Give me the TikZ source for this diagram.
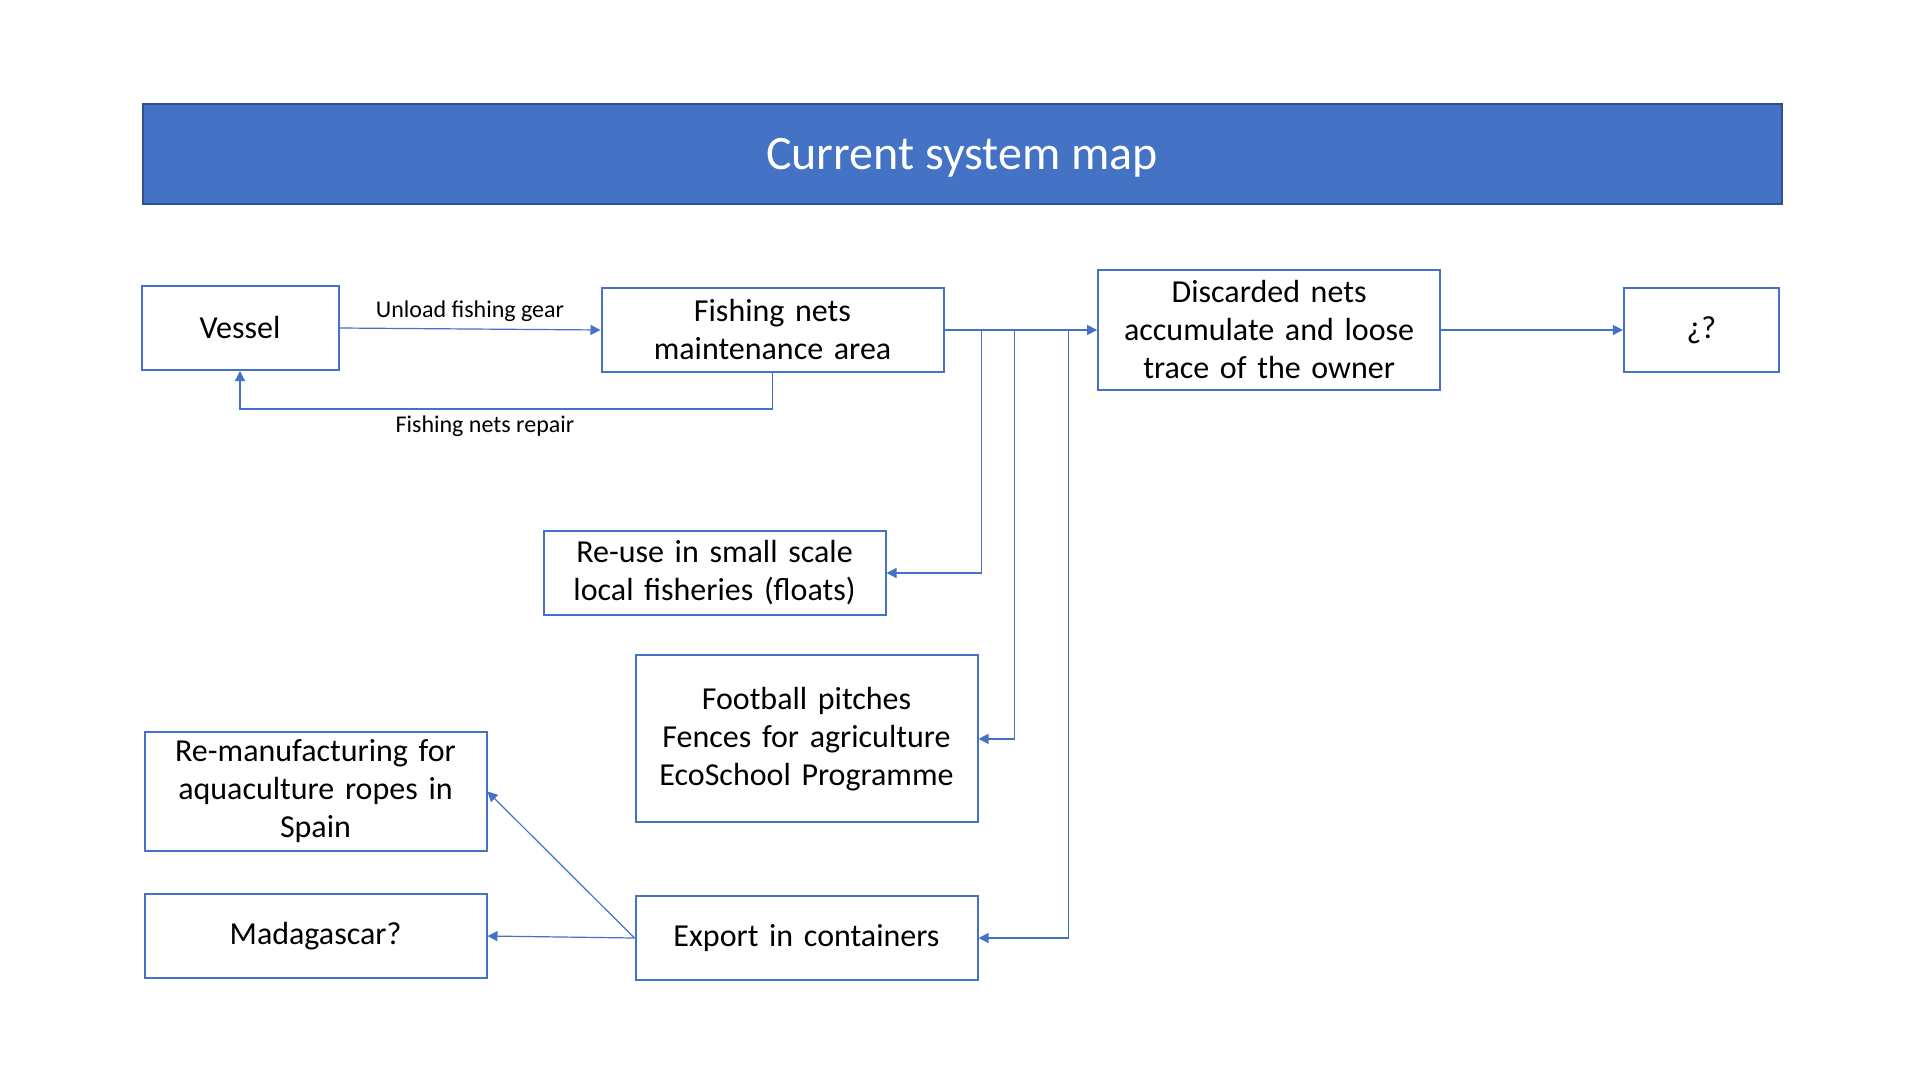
\documentclass[tikz,border=0pt]{standalone}
\usepackage{fontspec}
\setmainfont{Carlito}
\usetikzlibrary{arrows.meta, positioning, calc}
\definecolor{boxblue}{HTML}{4472C4}
\definecolor{bannerline}{HTML}{2F528F}
\tikzstyle{banner}    = [rectangle, minimum width=819.5pt, minimum height=50pt, draw=bannerline,
                          line width=1pt, fill=boxblue, text=white, text depth=0pt,
                          font=\fontsize{24}{29}\selectfont]
\tikzstyle{stage}     = [rectangle, minimum width=171pt, minimum height=42pt, inner sep=0pt,
                          text centered, draw=boxblue, line width=1pt, text width=165pt,
                          font=\fontsize{16}{19}\selectfont]
\tikzstyle{flow}      = [draw=boxblue, line width=0.6pt, -{Triangle[width=5pt,length=5pt]}]
\tikzstyle{flowlabel} = [font=\fontsize{12}{14}\selectfont, text=black]

\begin{document}
\begin{tikzpicture}[x=0.5pt, y=-0.5pt]

  \useasboundingbox (0,0) rectangle (1920,1080);

  % Title banner
  \node (title) [banner] at (962,154) {Current system map};

  % Top row
  \node (vessel)  [stage, minimum width=98.5pt, text width=90pt] at (240,328) {Vessel};
  \node (maint)   [stage, right=130.5pt of vessel, yshift=-1pt] {Fishing nets\\ maintenance area};
  \node (discard) [stage, minimum height=59.5pt, right=76.3pt of maint]
                  {Discarded nets\\ accumulate and loose\\ trace of the owner};
  \node (unknown) [stage, minimum width=77.5pt, text width=70pt, right=90.9pt of discard] {¿?};

  % Destinations
  \node (reuse)   [stage, below=78.5pt of maint, xshift=-29pt]
                  {Re-use in small scale\\ local fisheries (floats)};
  \node (sport)   [stage, minimum height=83.5pt, below=19.2pt of reuse, xshift=46pt]
                  {Football pitches\\ Fences for agriculture\\ EcoSchool Programme};
  \node (export)  [stage, below=35.8pt of sport] {Export in containers};
  \node (madagascar) [stage, left=73.5pt of export, yshift=1pt] {Madagascar?};
  \node (reman)   [stage, minimum height=59.5pt, above=20.5pt of madagascar]
                  {Re-manufacturing for\\ aquaculture ropes in\\ Spain};

  % Vessel loop
  \draw[flow] (vessel.east) -- node[flowlabel, above]{Unload fishing gear} (maint.west);
  \draw[flow] (maint.south) -- ++(0,36) -| node[flowlabel, pos=0.27, below]{Fishing nets repair} (vessel.south);

  % Out of the maintenance area
  \draw[flow] (maint.east) -- (discard.west);
  \draw[flow] (maint.east) -- ++(37,0) |- (reuse.east);
  \draw[flow] (maint.east) -- ++(70,0) |- (sport.east);
  \draw[flow] (maint.east) -- ++(124,0) |- (export.east);
  \draw[flow] (discard) -- (unknown);

  % Export arrows
  \draw[flow] (export.west) -- (madagascar.east);
  \draw[flow] (export.west) -- (reman.east);

\end{tikzpicture}
\end{document}
